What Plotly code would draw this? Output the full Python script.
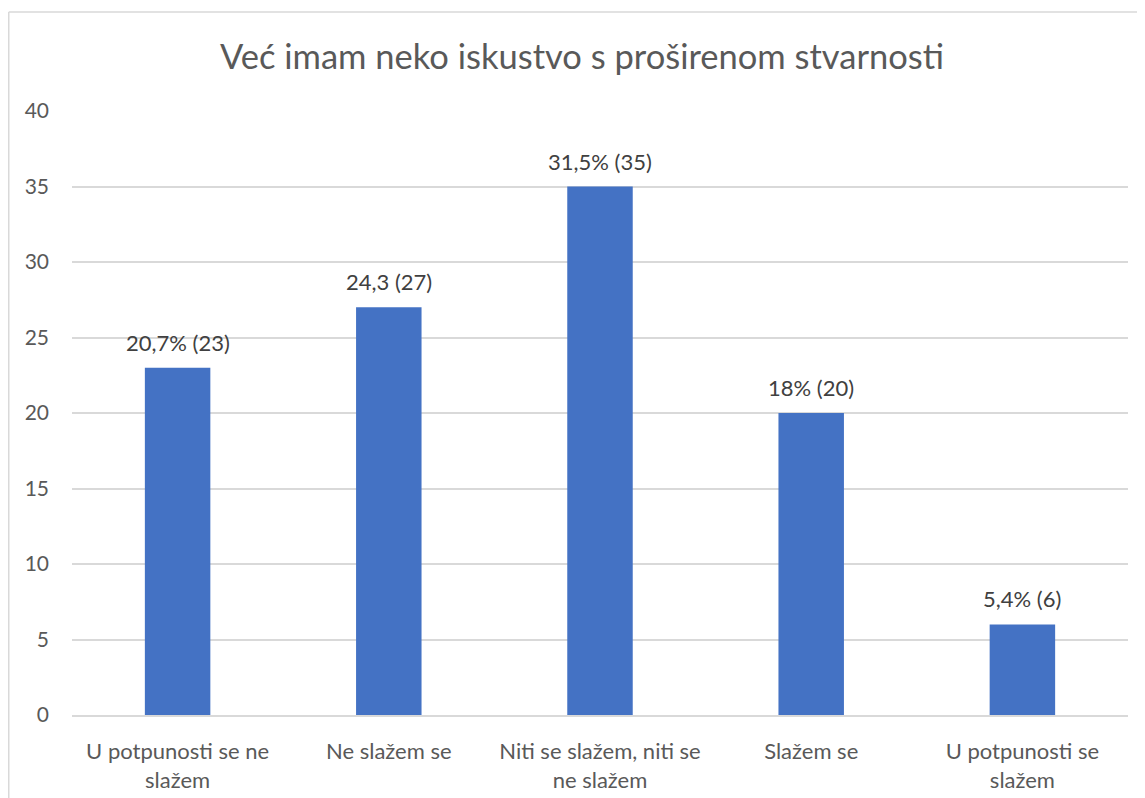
import plotly.graph_objects as go

categories = ["U potpunosti se ne<br>slažem", "Ne slažem se", "Niti se slažem, niti se<br>ne slažem", "Slažem se", "U potpunosti se<br>slažem"]
values = [23, 27, 35, 20, 6]
labels = ["20,7% (23)", "24,3 (27)", "31,5% (35)", "18% (20)", "5,4% (6)"]
title = "Već imam neko iskustvo s proširenom stvarnosti"

FONT = "Lato"
TXT = "#595959"
GRID = "#d9d9d9"

fig = go.Figure()
fig.add_trace(go.Bar(
    x=categories, y=values, marker=dict(color="#4472C4", line=dict(width=0)),
    width=0.31, hoverinfo="skip",
))
for c, v, t in zip(categories, values, labels):
    fig.add_annotation(x=c, y=v, text=t, showarrow=False, yanchor="bottom", yshift=10,
                       font=dict(family=FONT, size=22, color="#404040"))

# page has an 8px body offset, so figure coordinates are screen - 8
W, H = 1145, 798
l, r, t, b = 64, 25, 103, 91
pw, ph = W - l - r, H - t - b
x0 = (0.75 - l) / pw
y1 = (H - b - 4) / ph
fig.add_shape(type="line", xref="paper", yref="paper", x0=x0, x1=x0, y0=-0.5, y1=y1,
              line=dict(color=GRID, width=1.5))
fig.add_shape(type="line", xref="paper", yref="paper", x0=x0, x1=1.5, y0=y1, y1=y1,
              line=dict(color=GRID, width=1.5))

fig.update_layout(
    width=W, height=H, margin=dict(l=l, r=r, t=t, b=b),
    paper_bgcolor="white", plot_bgcolor="white",
    title=dict(text=title, x=574 / W, xanchor="center", xref="container", y=1 - 49 / H, yref="container",
               yanchor="middle", font=dict(family=FONT, size=34.5, color=TXT)),
    showlegend=False, bargap=0.69,
    font=dict(family=FONT, color=TXT),
)
fig.update_xaxes(showgrid=False, showline=True, linecolor=GRID, linewidth=1.5, ticks="",
                 tickfont=dict(family=FONT, size=22, color=TXT), ticklabelstandoff=16)
fig.update_yaxes(range=[0, 40], dtick=5, showgrid=True, gridcolor=GRID, gridwidth=1.5,
                 zeroline=False, showline=False, ticks="",
                 tickfont=dict(family=FONT, size=21, color=TXT), ticklabelstandoff=22)

fig.write_html("out.html")
